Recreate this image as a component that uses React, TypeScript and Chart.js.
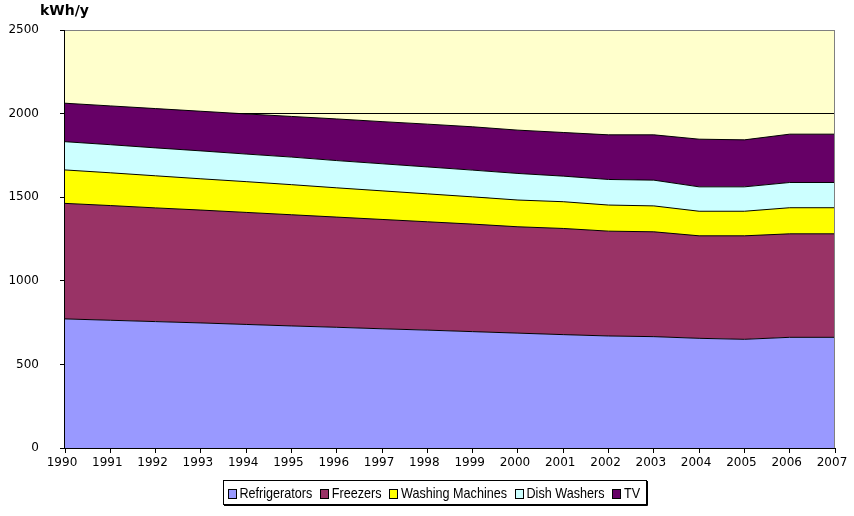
import { useEffect, useRef } from "react";
import { Chart, registerables } from "chart.js";

Chart.register(...registerables);

const years = ["1990", "1991", "1992", "1993", "1994", "1995", "1996", "1997", "1998", "1999", "2000", "2001", "2002", "2003", "2004", "2005", "2006", "2007"];
const refrigerators = [772, 764, 756, 748, 739, 730, 722, 713, 705, 696, 687, 678, 670, 666, 656, 650, 662, 662];
const freezers = [691, 686, 680, 675, 670, 665, 659, 654, 648, 643, 636, 635, 627, 627, 613, 619, 619, 619];
const washingMachines = [200, 196, 192, 187, 184, 180, 175, 171, 167, 163, 160, 160, 156, 155, 147, 147, 156, 156];
const dishWashers = [169, 168, 167, 167, 165, 165, 163, 162, 161, 160, 159, 153, 153, 154, 146, 146, 151, 151];
const tv = [230, 232, 235, 237, 240, 243, 249, 252, 256, 259, 259, 261, 267, 271, 285, 281, 289, 289];
const yMin = 0;
const yMax = 2500;
const yStep = 500;
const unitLabel = "kWh/y";

const frameAndLegend = {
  id: "frameAndLegend",
  beforeDraw(chart: any) {
    const { ctx, chartArea: a } = chart;
    ctx.save();
    ctx.fillStyle = "#FFFFFF";
    ctx.fillRect(0, 0, chart.width, chart.height);
    ctx.fillStyle = "#FFFFCC";
    ctx.fillRect(a.left, a.top, a.right - a.left, a.bottom - a.top);
    ctx.restore();
  },
  afterDatasetsDraw(chart: any) {
    const { ctx, chartArea: a } = chart;
    ctx.save();
    ctx.lineWidth = 1;
    ctx.strokeStyle = "#808080";
    ctx.beginPath();
    ctx.moveTo(Math.round(a.right) - 0.5, a.top);
    ctx.lineTo(Math.round(a.right) - 0.5, a.bottom);
    ctx.stroke();
    ctx.strokeStyle = "#000000";
    ctx.beginPath();
    ctx.moveTo(Math.round(a.left) - 0.5, a.top);
    ctx.lineTo(Math.round(a.left) - 0.5, a.bottom + 0.5);
    ctx.lineTo(Math.round(a.right), a.bottom + 0.5);
    ctx.stroke();
    ctx.restore();
  },
  afterDraw(chart: any) {
    const { ctx } = chart;
    ctx.save();
    ctx.fillStyle = "#000";
    ctx.font = 'bold 14px "DejaVu Sans"';
    ctx.textBaseline = "alphabetic";
    ctx.textAlign = "left";
    ctx.fillText(unitLabel, 40, 15);

    const sx = 0.84;
    ctx.font = '15px "Liberation Sans"';
    const items = chart.data.datasets.map((d: any) => ({
      label: d.label,
      color: d.backgroundColor,
      w: ctx.measureText(d.label).width * sx,
    }));
    const boxToText = 12;
    const gap = 7.5;
    let inner = 0;
    items.forEach((it: any, i: number) => {
      inner += boxToText + it.w + (i < items.length - 1 ? gap : 0);
    });
    const padL = 4.5;
    const padR = 5.5;
    const bw = padL + inner + padR;
    const center = 434.5;
    const left = Math.round(center - bw / 2);
    const right = Math.round(left + bw);
    const top = 480;
    const bottom = 504;
    ctx.fillStyle = "#FFFFFF";
    ctx.fillRect(left, top, right - left, bottom - top);
    ctx.strokeStyle = "#000";
    ctx.lineWidth = 1;
    ctx.strokeRect(left + 0.5, top + 0.5, right - left, bottom - top);
    ctx.beginPath();
    ctx.moveTo(left + 1, bottom + 1.5);
    ctx.lineTo(right + 1.5, bottom + 1.5);
    ctx.lineTo(right + 1.5, top + 1);
    ctx.stroke();

    let x = left + padL;
    items.forEach((it: any) => {
      const bx = Math.round(x);
      ctx.fillStyle = it.color;
      ctx.fillRect(bx, 489, 8, 9);
      ctx.strokeStyle = "#000";
      ctx.strokeRect(bx + 0.5, 489.5, 8, 9);
      ctx.save();
      ctx.translate(x + boxToText, 498);
      ctx.scale(sx, 1);
      ctx.fillStyle = "#000";
      ctx.textBaseline = "alphabetic";
      ctx.fillText(it.label, 0, 0);
      ctx.restore();
      x += boxToText + it.w + gap;
    });
    ctx.restore();
  },
};

export default function App() {
  const ref = useRef<HTMLCanvasElement | null>(null);
  useEffect(() => {
    if (!ref.current) return;
    Chart.defaults.font.family = '"DejaVu Sans"';
    Chart.defaults.font.size = 12;
    Chart.defaults.color = "#000";
    const mk = (label: string, data: number[], color: string, fill: any) => ({
      label,
      data,
      backgroundColor: color,
      borderColor: "#000000",
      borderWidth: 1,
      fill,
      pointRadius: 0,
      pointHoverRadius: 0,
      tension: 0,
    });
    const chart = new Chart(ref.current, {
      type: "line",
      data: {
        labels: years,
        datasets: [
          mk("Refrigerators", refrigerators, "#9999FF", "origin"),
          mk("Freezers", freezers, "#993366", "-1"),
          mk("Washing Machines", washingMachines, "#FFFF00", "-1"),
          mk("Dish Washers", dishWashers, "#CCFFFF", "-1"),
          mk("TV", tv, "#660066", "-1"),
        ],
      },
      options: {
        responsive: false,
        animation: false,
        devicePixelRatio: 1,
        layout: { padding: { left: 0, right: 19, top: 30, bottom: 0 } },
        plugins: {
          legend: { display: false },
          tooltip: { enabled: false },
          title: { display: false },
        },
        scales: {
          x: {
            type: "category",
            offset: false,
            grid: { drawOnChartArea: false, drawTicks: true, tickLength: 5, color: "#000", tickColor: "#000" },
            border: { display: false },
            ticks: { color: "#000", padding: 3, maxRotation: 0, autoSkip: false, labelOffset: -3 },
            afterFit(s: any) {
              s.height = 68;
            },
          },
          y: {
            stacked: true,
            min: yMin,
            max: yMax,
            ticks: { stepSize: yStep, color: "#000", padding: 21, callback: (v: any) => String(v) },
            grid: {
              color: (c: any) => (c.tick && c.tick.value === yMax ? "#808080" : "#000000"),
              tickColor: "#000",
              tickLength: 5,
              lineWidth: 1,
            },
            border: { display: false },
            afterFit(s: any) {
              s.width = 65;
            },
          },
        },
      },
      plugins: [frameAndLegend],
    } as any);
    return () => chart.destroy();
  }, []);
  return (
    <div style={{ position: "absolute", left: 0, top: 0, width: 854, height: 516 }}>
      <canvas ref={ref} width={854} height={516} />
    </div>
  );
}
